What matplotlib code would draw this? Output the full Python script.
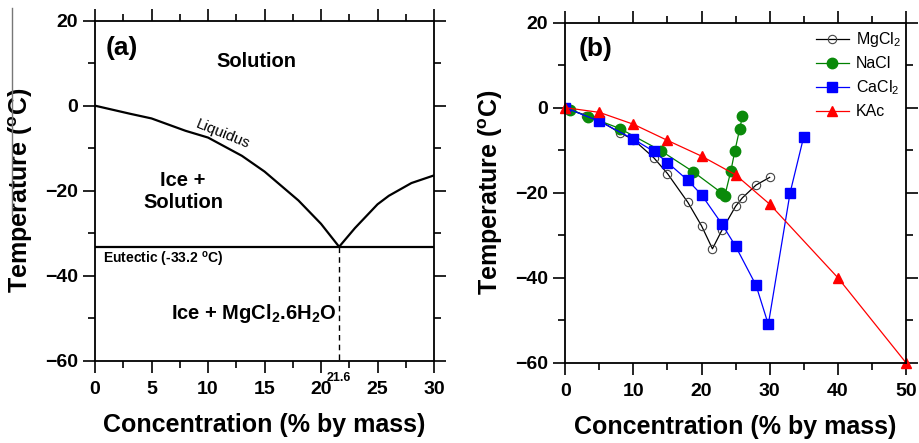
import matplotlib
matplotlib.use("Agg")
import matplotlib.pyplot as plt
from matplotlib.lines import Line2D
from matplotlib.ticker import MultipleLocator

plt.rcParams['font.family'] = ['Liberation Sans', 'DejaVu Sans']
plt.rcParams['mathtext.fontset'] = 'custom'
plt.rcParams['mathtext.rm'] = 'Liberation Sans'
plt.rcParams['mathtext.it'] = 'Liberation Sans:italic'
plt.rcParams['mathtext.bf'] = 'Liberation Sans:bold'

# datos
mg_conc = [0, 3.1, 5, 8, 10, 13, 15, 18, 20, 21.6, 23, 25, 26, 28, 30]
mg_temp = [0, -1.9, -3.0, -5.9, -7.5, -11.8, -15.5, -22.3, -27.8, -33.2, -28.8, -23.2, -21.2, -18.2, -16.4]

nacl_conc = [0.7, 3.4, 8, 14, 18.8, 22.9, 23.4, 24.3, 24.9, 25.6, 26.0]
nacl_temp = [-0.5, -2.1, -4.9, -10.1, -15.1, -20.0, -20.8, -14.9, -10.1, -5.0, -2.0]

cacl_conc = [0, 5, 10, 13, 15, 18, 20, 23, 25, 28, 29.8, 33, 35]
cacl_temp = [0, -3.2, -7.4, -10.3, -12.9, -17.1, -20.5, -27.4, -32.6, -41.8, -51.0, -20.0, -6.8]

kac_conc = [0, 5, 10, 15, 20, 25, 30, 40, 50]
kac_temp = [0, -1.1, -3.9, -7.7, -11.4, -15.8, -22.7, -40.0, -60.0]

eutectic_x = 21.6
eutectic_t = -33.2

ylab = r'Temperature ($^{\mathbf{o}}$C)'
xlab = 'Concentration (% by mass)'


def style_axes(ax, xmax, xmajor, xminor):
    ax.set_xlim(0, xmax)
    ax.set_ylim(-60, 20)
    ax.xaxis.set_major_locator(MultipleLocator(xmajor))
    ax.xaxis.set_minor_locator(MultipleLocator(xminor))
    ax.yaxis.set_major_locator(MultipleLocator(20))
    ax.yaxis.set_minor_locator(MultipleLocator(10))
    ax.tick_params(which='both', direction='out', top=True, right=True,
                   labeltop=False, labelright=False, width=1.2)
    ax.tick_params(which='major', length=8.5, labelsize=14)
    ax.tick_params(which='minor', length=5)
    ax.tick_params(axis='x', pad=6)
    ax.tick_params(axis='y', pad=4)
    for lab in ax.get_xticklabels() + ax.get_yticklabels():
        lab.set_fontweight('bold')
    for sp in ax.spines.values():
        sp.set_linewidth(1.3)
    ax.set_xlabel(xlab, fontsize=18, fontweight='bold')
    ax.set_ylabel(ylab, fontsize=18, fontweight='bold')
    ax.xaxis.set_label_coords(0.5, -0.155)
    ax.yaxis.set_label_coords(-0.177, 0.5)


fig = plt.figure(figsize=(9.19, 4.43), dpi=100)
ax1 = fig.add_axes([0.1034, 0.1858, 0.3689, 0.7675])
ax2 = fig.add_axes([0.6151, 0.1813, 0.3707, 0.7675])

# ---- panel (a)
style_axes(ax1, 30, 5, 2.5)
ax1.plot(mg_conc, mg_temp, color='black', lw=1.6)
ax1.axhline(eutectic_t, color='black', lw=1.6)
ax1.plot([eutectic_x, eutectic_x], [eutectic_t, -60], color='black', lw=1,
         linestyle=(0, (4, 3)))
ax1.text(2.4, 13.5, '(a)', fontsize=19, fontweight='bold', ha='center', va='center')
ax1.text(14.3, 10.3, 'Solution', fontsize=14.5, fontweight='bold', ha='center', va='center')
ax1.text(7.8, -20.2, 'Ice +\nSolution', fontsize=14.5, fontweight='bold', ha='center',
         va='center', linespacing=1.15)
ax1.text(14.0, -48.9, r'Ice + MgCl$_\mathbf{2}$.6H$_\mathbf{2}$O', fontsize=14.5,
         fontweight='bold', ha='center', va='center')
ax1.text(0.7, -36.3, r'Eutectic (-33.2 $^{\mathbf{o}}$C)', fontsize=10, fontweight='bold',
         ha='left', va='center')
ax1.text(11.35, -6.6, 'Liquidus', fontsize=11, rotation=-22, ha='center', va='center',
         rotation_mode='anchor')
ax1.text(eutectic_x, -64.1, '21.6', fontsize=9, fontweight='bold', ha='center',
         va='center', clip_on=False)

# ---- panel (b)
style_axes(ax2, 50, 10, 5)
ax2.plot(mg_conc, mg_temp, color='black', lw=0.9, marker='o', ms=6,
         mfc='none', mec='#444444', mew=0.8, label=r'MgCl$_2$')
ax2.plot(nacl_conc, nacl_temp, color='#008000', lw=0.9, marker='o', ms=7.5,
         mfc='#0a8a0a', mec='#0a8a0a', label='NaCl')
ax2.plot(cacl_conc, cacl_temp, color='#0000ff', lw=0.9, marker='s', ms=7,
         mfc='#0000ff', mec='#0000ff', label=r'CaCl$_2$')
ax2.plot(kac_conc, kac_temp, color='#ff0000', lw=0.9, marker='^', ms=7,
         mfc='#ff0000', mec='#ff0000', label='KAc', clip_on=False)
ax2.text(4.4, 13.7, '(b)', fontsize=19, fontweight='bold', ha='center', va='center')
ax2.legend(loc='upper left', bbox_to_anchor=(0.735, 0.978), frameon=False,
           fontsize=11.5, handlelength=2.1, handletextpad=0.4, labelspacing=0.45,
           borderpad=0, borderaxespad=0)

# linea gris que aparece a la izquierda en la imagen original
fig.add_artist(Line2D([12 / 919, 12 / 919], [1 - 8 / 443, 1 - 215 / 443],
                      color='#777777', lw=1))

fig.savefig('out.png', dpi=100)
